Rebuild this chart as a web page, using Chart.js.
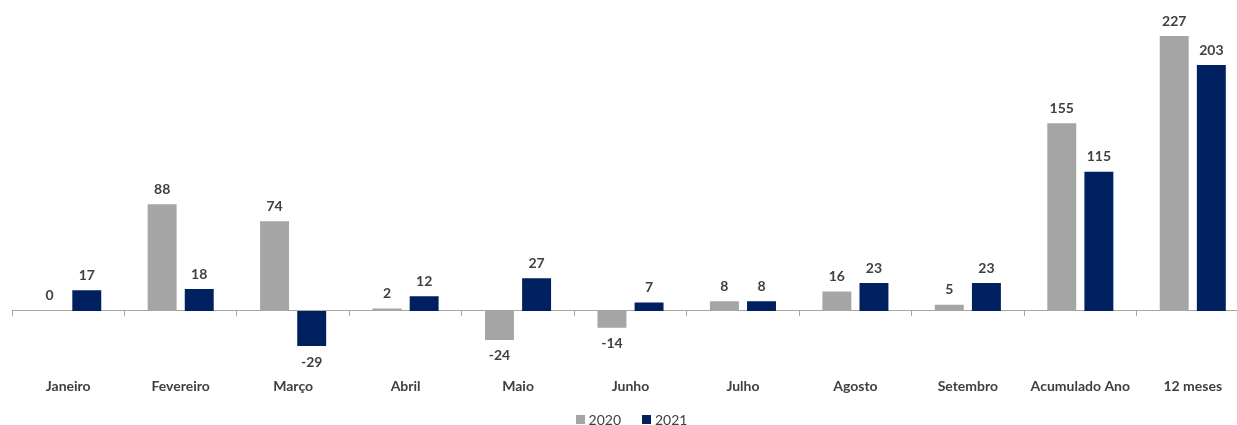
<!DOCTYPE html>
<html>
<head>
<meta charset="utf-8">
<script src="https://cdn.jsdelivr.net/npm/chart.js@4.4.1/dist/chart.umd.min.js"></script>
<style>
  html, body { margin: 0; padding: 0; background: #ffffff; overflow: hidden; }
  #wrap { position: relative; width: 1250px; height: 425px; }
  #legend {
    position: absolute; left: 0; top: 410px; width: 1250px; height: 18px;
    display: flex; justify-content: center; align-items: center;
    font: 14px Lato, sans-serif; color: #404040;
  }
  #legend .item { display: flex; align-items: center; margin: 0 0 0 21px; }
  #legend .item:first-child { margin-left: 13px; }
  #legend .box { width: 9px; height: 9px; margin-right: 4px; }
</style>
</head>
<body>
<div id="wrap">
  <canvas id="chart"></canvas>
  <div id="legend"></div>
</div>
<script>
// Categories and yearly values
const categories = ['Janeiro', 'Fevereiro', 'Março', 'Abril', 'Maio', 'Junho', 'Julho',
                    'Agosto', 'Setembro', 'Acumulado Ano', '12 meses'];
const values2020 = [0, 88, 74, 2, -24, -14, 8, 16, 5, 155, 227];
const values2021 = [17, 18, -29, 12, 27, 7, 8, 23, 23, 115, 203];
const seriesNames = ['2020', '2021'];
const seriesColors = ['#A5A5A5', '#002060'];

const FONT = 'Lato, sans-serif';
const TEXT = '#404040';
const AXIS = '#A6A6A6';

// Value labels above positive bars, below negative ones
const valueLabels = {
  id: 'valueLabels',
  afterDatasetsDraw(chart) {
    const ctx = chart.ctx;
    ctx.save();
    ctx.font = 'bold 14px ' + FONT;
    ctx.fillStyle = TEXT;
    ctx.textAlign = 'center';
    ctx.textBaseline = 'middle';
    chart.data.datasets.forEach((ds, i) => {
      chart.getDatasetMeta(i).data.forEach((bar, j) => {
        const v = ds.data[j];
        const y = v < 0 ? bar.y + 16 : bar.y - 15;
        ctx.fillText(String(v), bar.x, y);
      });
    });
    ctx.restore();
  }
};

const chart = new Chart(document.getElementById('chart'), {
  type: 'bar',
  data: {
    labels: categories,
    datasets: [
      { label: seriesNames[0], data: values2020, backgroundColor: seriesColors[0] },
      { label: seriesNames[1], data: values2021, backgroundColor: seriesColors[1] }
    ]
  },
  options: {
    responsive: true,
    maintainAspectRatio: false,
    animation: false,
    events: [],
    layout: { padding: { left: 12, right: 1, top: 10, bottom: 27 } },
    datasets: { bar: { categoryPercentage: 0.66, barPercentage: 0.78 } },
    plugins: { legend: { display: false }, tooltip: { enabled: false } },
    scales: {
      x: {
        position: 'bottom',
        grid: { display: false },
        border: { display: false },
        ticks: {
          color: TEXT, padding: 3, autoSkip: false, maxRotation: 0,
          font: { family: FONT, size: 14, weight: 'bold' }
        }
      },
      // zero line with boundary tick marks
      x2: {
        type: 'category',
        labels: categories,
        position: { y: 0 },
        offset: true,
        grid: { offset: true, drawOnChartArea: false, drawTicks: true, tickLength: 5, color: AXIS },
        border: { display: true, color: AXIS, width: 1 },
        ticks: { display: false }
      },
      y: { display: false, min: -46.5, max: 248.5 }
    }
  },
  plugins: [valueLabels]
});

// Legend built from the dataset names and colours
const legend = document.getElementById('legend');
chart.data.datasets.forEach(ds => {
  const item = document.createElement('span');
  item.className = 'item';
  const box = document.createElement('span');
  box.className = 'box';
  box.style.background = ds.backgroundColor;
  const txt = document.createElement('span');
  txt.textContent = ds.label;
  item.appendChild(box);
  item.appendChild(txt);
  legend.appendChild(item);
});
</script>
</body>
</html>
